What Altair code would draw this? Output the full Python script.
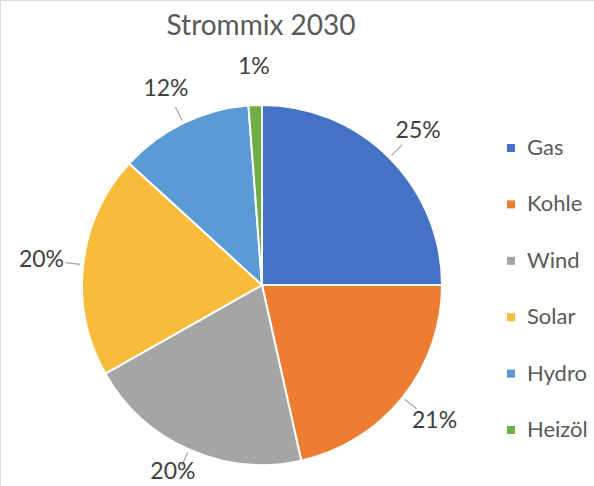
import altair as alt
import pandas as pd

title_text = "Strommix 2030"
categories = ["Gas", "Kohle", "Wind", "Solar", "Hydro", "Heizöl"]
values = [25.0, 21.5, 20.3, 20.0, 12.0, 1.2]
labels = ["25%", "21%", "20%", "20%", "12%", "1%"]
colors = ["#4472C4", "#ED7D31", "#A5A5A5", "#F9BC3A", "#5B9BD5", "#70AD47"]

df = pd.DataFrame({
    "Quelle": categories,
    "Anteil": values,
    "Label": labels,
    "idx": list(range(len(categories))),
})

CX, CY, R = 262, 285, 180

color = alt.Color(
    "Quelle:N",
    sort=categories,
    scale=alt.Scale(domain=categories, range=colors),
    legend=alt.Legend(
        title=None, orient="none", legendX=500, legendY=137,
        symbolType="square", symbolSize=64, symbolStrokeWidth=0,
        labelFontSize=22, labelFont="Lato", labelColor="#595959",
        rowPadding=34.4, labelOffset=5,
    ),
)

base = alt.Chart(df)

pie = base.mark_arc(radius=R, stroke="white", strokeWidth=2).encode(
    theta=alt.Theta("Anteil:Q", stack=True),
    order=alt.Order("idx:Q"),
    color=color,
    x=alt.value(CX), y=alt.value(CY),
)

geo = base.transform_joinaggregate(total="sum(Anteil)").transform_window(
    cum="sum(Anteil)", sort=[alt.SortField("idx")]
).transform_calculate(
    mid="(datum.cum - datum.Anteil/2)/datum.total*2*PI",
).transform_calculate(
    x1=f"{CX} + {R+3}*sin(datum.mid)", y1=f"{CY} - {R+3}*cos(datum.mid)",
    x2=f"{CX} + {R+18}*sin(datum.mid)", y2=f"{CY} - {R+18}*cos(datum.mid)",
    lx=f"{CX} + {R+38}*sin(datum.mid) + 4*sin(datum.mid)*abs(sin(datum.mid))",
    ly=f"min({CY} - {R+38}*cos(datum.mid), 472)",
)

leaders = geo.transform_filter("datum.Anteil > 2").mark_rule(
    color="#A6A6A6", strokeWidth=1.2
).encode(
    x=alt.X("x1:Q", scale=None), y=alt.Y("y1:Q", scale=None),
    x2="x2:Q", y2="y2:Q",
)

text = geo.mark_text(
    font="Lato", fontSize=23, color="#404040", align="center", baseline="middle"
).encode(
    x=alt.X("lx:Q", scale=None), y=alt.Y("ly:Q", scale=None),
    text="Label:N",
)

title = alt.Chart(pd.DataFrame({"t": [title_text]})).mark_text(
    font="Lato", fontSize=28, color="#595959", align="center", baseline="alphabetic"
).encode(x=alt.value(261), y=alt.value(35), text="t:N")

chart = alt.layer(pie, leaders, text, title).properties(
    width=594, height=486,
    autosize=alt.AutoSizeParams(type="none"),
    padding=0,
).configure_view(stroke=None).configure(background="white")

chart.save("out.html", embed_options={"renderer": "svg", "actions": False})
